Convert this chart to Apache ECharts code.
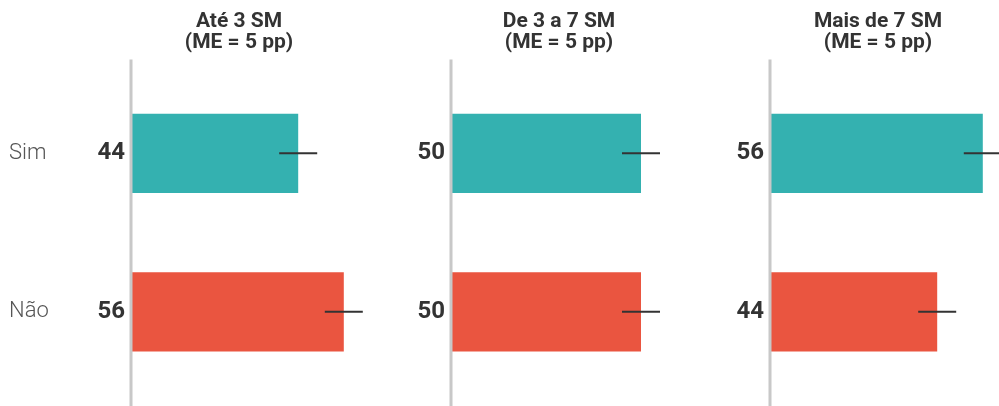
<!DOCTYPE html>
<html>
<head>
<meta charset="utf-8">
<script src="https://cdn.jsdelivr.net/npm/echarts@6/dist/echarts.min.js"></script>
<style>
html,body{margin:0;padding:0;background:#fff;}
#chart{width:999px;height:406px;}
</style>
</head>
<body>
<div id="chart"></div>
<script>
const categories = ['Sim', 'Não'];
const panelTitles = ['Até 3 SM', 'De 3 a 7 SM', 'Mais de 7 SM'];
const panelSubtitle = '(ME = 5 pp)';
const simValues = [44, 50, 56];
const naoValues = [56, 50, 44];
const marginOfError = 5;

const colors = ['#34b1b0', '#ea5540'];
const gridLefts = [131, 451, 770];
const font = 'Roboto, "Noto Sans", sans-serif';

const chart = echarts.init(document.getElementById('chart'), null, {renderer: 'canvas'});

const grids = [], xAxes = [], yAxes = [], series = [], titles = [];
panelTitles.forEach((t, i) => {
  grids.push({left: gridLefts[i], width: 228, top: 74, bottom: 15, containLabel: false});
  xAxes.push({type: 'value', gridIndex: i, min: 0, max: 60, show: false});
  yAxes.push({
    type: 'category', gridIndex: i, data: categories, inverse: true,
    axisLine: {show: false}, axisTick: {show: false}, splitLine: {show: false},
    axisLabel: i === 0 ? {show: true, align: 'left', margin: 122, fontSize: 22, fontWeight: 300, color: '#555', fontFamily: font, padding: [6, 0, 0, 0]} : {show: false}
  });
  const vals = [simValues[i], naoValues[i]];
  series.push({
    type: 'bar', xAxisIndex: i, yAxisIndex: i, barCategoryGap: '50%',
    data: vals.map((v, k) => ({value: v, itemStyle: {color: colors[k]}})),
    label: {show: true, position: 'left', distance: 6, formatter: '{c}', fontSize: 24, fontWeight: 'bold', color: '#333', fontFamily: font, padding: [3, 0, 0, 0]},
    silent: true, animation: false
  });
  series.push({
    type: 'custom', xAxisIndex: i, yAxisIndex: i, clip: false, animation: false, silent: true, z: 5,
    data: vals.map((v, k) => [v - marginOfError, v + marginOfError, k]),
    encode: {x: [0, 1], y: 2},
    renderItem: function (params, api) {
      const a = api.coord([api.value(0), api.value(2)]);
      const b = api.coord([api.value(1), api.value(2)]);
      return {type: 'line', shape: {x1: a[0], y1: a[1], x2: b[0], y2: b[1]}, style: {stroke: '#333', lineWidth: 1.8}};
    }
  });
  titles.push({
    text: t + '\n' + panelSubtitle, left: gridLefts[i] + 103, top: 6, textAlign: 'center',
    textStyle: {fontSize: 21, fontWeight: 'bold', lineHeight: 21, color: '#333', fontFamily: font}
  });
});

chart.setOption({animation: false, title: titles, grid: grids, xAxis: xAxes, yAxis: yAxes, series: series});

const lines = panelTitles.map((t, i) => {
  const x = chart.convertToPixel({gridIndex: i}, [0, 0])[0];
  return {type: 'line', z: 10, shape: {x1: x, y1: 59.5, x2: x, y2: 406}, style: {stroke: '#c8c8c8', lineWidth: 3}};
});
chart.setOption({graphic: lines});
</script>
</body>
</html>
